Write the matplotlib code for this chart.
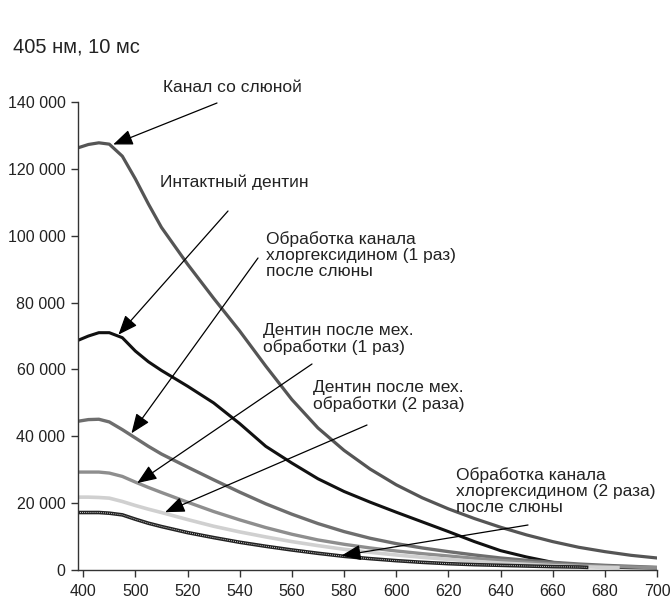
import matplotlib
matplotlib.use("Agg")
import matplotlib.pyplot as plt
from matplotlib.ticker import FuncFormatter

plt.rcParams['font.family'] = ['Liberation Sans', 'DejaVu Sans']
plt.rcParams['lines.solid_joinstyle'] = 'round'

# длины волн, нм
nm = [478, 482, 486, 490, 495, 500, 505, 510, 520, 530, 540, 550, 560, 570,
      580, 590, 600, 610, 620, 630, 640, 650, 660, 670, 680, 690, 700]

kanal_slyuna = [126300, 127300, 127800, 127400, 123800, 117000, 109500, 102500,
                91500, 81300, 71500, 61000, 51000, 42500, 35800, 30200, 25500,
                21600, 18300, 15400, 12800, 10500, 8500, 6800, 5500, 4400, 3600]
intakt = [68700, 70000, 71000, 71000, 69500, 65500, 62300, 59700, 55000, 50000,
          43800, 37000, 32000, 27300, 23500, 20300, 17300, 14400, 11500, 8500,
          5800, 3900, 2300, 1300, 900, 700, 600]
hlorgeks_1 = [44500, 45000, 45100, 44300, 42000, 39500, 37000, 34700, 30800,
              27000, 23300, 19800, 16700, 13900, 11500, 9500, 7900, 6600, 5500,
              4500, 3600, 2900, 2300, 1800, 1400, 1100, 800]
meh_1 = [29300, 29300, 29300, 29000, 28000, 26300, 24700, 23200, 20300, 17500,
         15000, 12700, 10700, 9000, 7700, 6600, 5700, 4900, 4200, 3500, 2900,
         2300, 1800, 1400, 1100, 900, 700]
nm_meh_2 = nm[:-2] + [685]
meh_2 = [21800, 21800, 21700, 21500, 20500, 19300, 18200, 17200, 15100, 13100,
         11400, 9900, 8500, 7300, 6200, 5300, 4500, 3800, 3200, 2600, 2100,
         1700, 1300, 1000, 800, 700]
nm_hlorgeks_2 = nm[:-3] + [673]
hlorgeks_2 = [17200, 17200, 17200, 17000, 16500, 15200, 14000, 13000, 11200,
              9700, 8300, 7100, 6000, 5000, 4100, 3400, 2800, 2300, 1900, 1600,
              1400, 1200, 1000, 900, 800]

tick_pos = [480, 500, 520, 540, 560, 580, 600, 620, 640, 660, 680, 700]
tick_lbl = ['400', '500', '520', '540', '560', '580', '600', '620', '640',
            '660', '680', '700']

fig = plt.figure(figsize=(6.7, 6.03), dpi=100)
ax = fig.add_axes([0.1164, 0.0547, 0.8642, 0.7761])

ax.plot(nm, kanal_slyuna, color='#555555', lw=2.3)
ax.plot(nm, intakt, color='#111111', lw=2.2)
ax.plot(nm, hlorgeks_1, color='#6e6e6e', lw=2.4)
ax.plot(nm, meh_1, color='#8e8e8e', lw=2.4)
ax.plot(nm_meh_2, meh_2, color='#d0d0d0', lw=2.6)
ax.plot(nm_hlorgeks_2, hlorgeks_2, color='#222222', lw=2.6)
ax.plot(nm_hlorgeks_2, hlorgeks_2, color='white', lw=0.6, ls=(0, (1, 1.5)))

ax.set_xlim(478, 700)
ax.set_ylim(0, 140000)
ax.set_xticks(tick_pos)
ax.set_xticklabels(tick_lbl)
ax.set_yticks(range(0, 140001, 20000))
ax.yaxis.set_major_formatter(FuncFormatter(lambda v, p: f'{int(v):,}'.replace(',', ' ')))
for s in ['top', 'right']:
    ax.spines[s].set_visible(False)
for s in ['left', 'bottom']:
    ax.spines[s].set_color('#333333')
    ax.spines[s].set_linewidth(1.0)
ax.tick_params(direction='out', length=5, width=1, color='#333333',
               labelsize=11.5, labelcolor='#222222')
ax.tick_params(axis='y', pad=4)
ax.tick_params(axis='x', pad=5)

fig.text(0.019, 0.922, '405 нм, 10 мс', fontsize=14.5, color='#222222', va='center')

arrow = dict(arrowstyle='-|>,head_length=0.6,head_width=0.24', color='black',
             lw=0.9, shrinkA=0, shrinkB=0, mutation_scale=20)

# подписи кривых со стрелками (текст и начало стрелки в пикселях фигуры)
notes = [
    ('Канал со слюной', (163, 88), (217, 103), (491.5, 127300)),
    ('Интактный дентин', (160, 182), (228, 211), (493.5, 70400)),
    ('Обработка канала\nхлоргексидином (1 раз)\nпосле слюны', (266, 255), (258, 258), (498.5, 40900)),
    ('Дентин после мех.\nобработки (1 раз)', (263, 339), (312, 364), (500.7, 26000)),
    ('Дентин после мех.\nобработки (2 раза)', (313, 396), (367, 425), (511.4, 17300)),
    ('Обработка канала\nхлоргексидином (2 раза)\nпосле слюны', (456, 491), (528, 525), (579, 4300)),
]
W, H = 670, 603
for txt, (tx, ty), (sx, sy), tip in notes:
    fig.text(tx / W, 1 - ty / H, txt, fontsize=12.5, color='#222222',
             va='center', ha='left', linespacing=1.05)
    ax.annotate('', xy=tip, xycoords='data',
                xytext=(sx / W, 1 - sy / H), textcoords='figure fraction',
                arrowprops=arrow)

fig.savefig('out.png', dpi=100)
